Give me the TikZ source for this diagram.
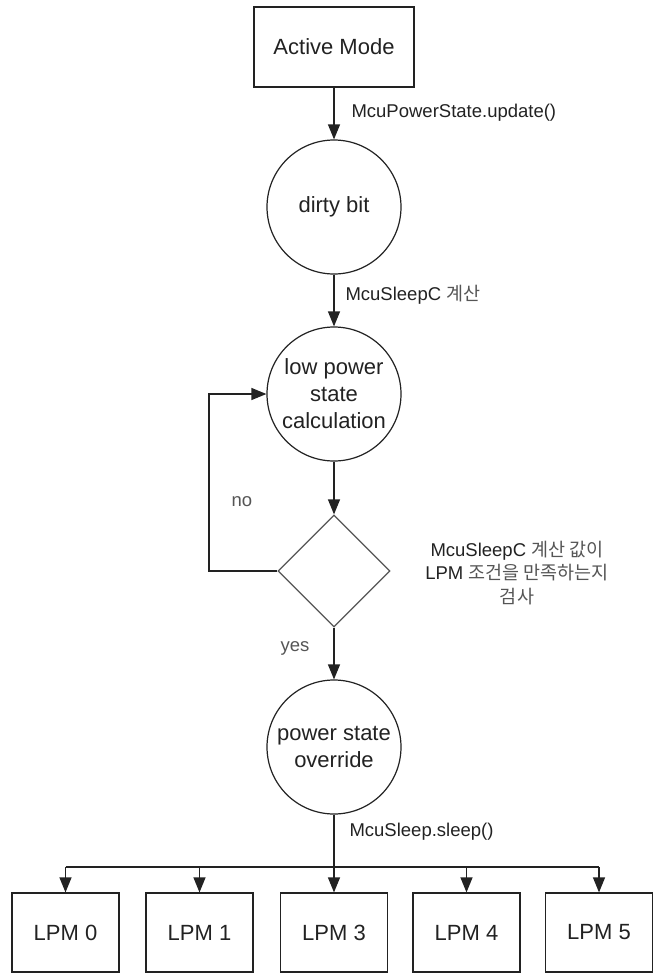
\documentclass[tikz,border=0pt]{standalone}
\usepackage{fontspec}
\setmainfont{Liberation Sans}
\newfontfamily\kr{Noto Sans CJK KR}
\usetikzlibrary{shapes.geometric,arrows.meta}
\definecolor{ink}{HTML}{222222}
\definecolor{soft}{HTML}{555555}
\tikzset{
  every node/.style={text=ink},
  big/.style={font=\fontsize{22}{27}\selectfont},
  lab/.style={font=\fontsize{18.5}{23.5}\selectfont},
  rectbox/.style={draw=ink, line width=1.2pt, big, inner sep=0pt},
  circbox/.style={draw=ink, line width=1.2pt, circle, minimum size=134pt, inner sep=0pt, big, align=center},
  decide/.style={draw=soft, line width=1.2pt, diamond, minimum width=112pt, minimum height=112pt, inner sep=0pt},
  conn/.style={draw=ink, line width=1.2pt},
  arr/.style={conn, -{Triangle[length=15pt,width=12pt]}},
}
\begin{document}
\begin{tikzpicture}[x=1pt,y=-1pt]
\useasboundingbox (0,0) rectangle (662,974);
\node[rectbox, minimum width=160pt, minimum height=80pt] (active) at (334,47) {Active Mode};
\node[circbox] (dirty) at (334,207) {dirty bit};
\node[circbox] (lps) at (334,394) {low power\\state\\calculation};
\node[decide] (dec) at (334,571) {};
\node[circbox] (pso) at (334,747) {power state\\override};
\foreach \n/\x/\t in {l0/65.5/LPM 0, l1/199.5/LPM 1, l3/334/LPM 3, l4/466.5/LPM 4, l5/599/LPM 5}{
  \node[rectbox, minimum width=107pt, minimum height=79pt] (\n) at (\x,932.5) {\t};
}
\coordinate (bus) at (334,867);
\coordinate (loop) at (209,571);

\draw[arr] (active) -- (dirty);
\draw[arr] (dirty) -- (lps);
\draw[arr] (lps) -- (dec);
\draw[arr] (dec) -- (pso);
\draw[arr] (dec.west) -- (loop) -- (loop |- lps.west) -- (lps.west);
\draw[conn] (pso.south) -- (bus);
\draw[conn] (l0.north |- bus) -- (l5.north |- bus);
\foreach \n in {l0,l1,l3,l4,l5}{
  \draw[arr] (\n.north |- bus) -- (\n.north);
}

\node[lab, anchor=west] (t1) at (348,113) {McuPowerState.update()};
\node[lab, anchor=west] (t2) at (342,295) {McuSleepC {\kr\color{soft}계산}};
\node[lab, anchor=west] (t3) at (346,832) {McuSleep.sleep()};
\node[lab, text=soft] (tno) at (242,502) {no};
\node[lab, text=soft] (tyes) at (295,648) {yes};
\node[lab, align=center] (tq) at (517,573) {McuSleepC {\kr\color{soft}계산 값이}\\LPM {\kr\color{soft}조건을 만족하는지}\\{\kr\color{soft}검사}};
\end{tikzpicture}
\end{document}
